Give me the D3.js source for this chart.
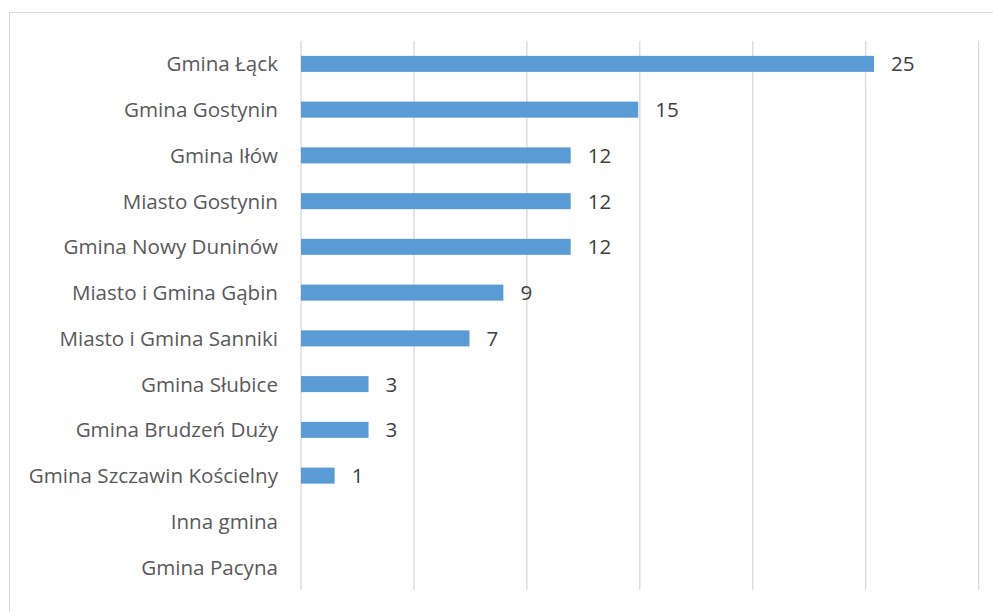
<!DOCTYPE html>
<html><head><meta charset="utf-8">
<script src="https://cdn.jsdelivr.net/npm/d3@7"></script>
<style>body{margin:0;background:#fff;} svg{display:block;}</style>
</head><body>
<svg id="chart" width="993" height="612"></svg>
<script>
const categories = ["Gmina Łąck","Gmina Gostynin","Gmina Iłów","Miasto Gostynin","Gmina Nowy Duninów","Miasto i Gmina Gąbin","Miasto i Gmina Sanniki","Gmina Słubice","Gmina Brudzeń Duży","Gmina Szczawin Kościelny","Inna gmina","Gmina Pacyna"];
const values = [25.37,14.93,11.94,11.94,11.94,8.96,7.46,2.99,2.99,1.49,0,0];
const xTicks = [0,5,10,15,20,25,30];

(function(){
const svg = d3.select("#chart");
const font = "'Open Sans', sans-serif";
svg.append("rect").attr("x",9.5).attr("y",12.5).attr("width",1000).attr("height",700)
  .attr("fill","#fff").attr("stroke","#d9d9d9").attr("stroke-width",1);

const pl=301, pr=978.6, pt=41, pb=590;
const x = d3.scaleLinear().domain([0,30]).range([pl,pr]);
const y = d3.scaleBand().domain(categories).range([pt,pb]).paddingInner(0.65).paddingOuter(0.325);

const g = svg.append("g");
g.selectAll("line.grid").data(xTicks).join("line").attr("class","grid")
  .attr("x1",d=>x(d)).attr("x2",d=>x(d)).attr("y1",pt).attr("y2",pb)
  .attr("stroke","#d9d9d9").attr("stroke-width",1.3);

g.selectAll("rect.bar").data(categories).join("rect").attr("class","bar")
  .attr("x",x(0)).attr("y",d=>y(d)).attr("height",y.bandwidth())
  .attr("width",(d,i)=>x(values[i])-x(0)).attr("fill","#5b9bd5")
  .style("display",(d,i)=>values[i]>0?null:"none");

g.selectAll("text.val").data(categories.filter((d,i)=>values[i]>0)).join("text").attr("class","val")
  .attr("x",d=>x(values[categories.indexOf(d)])+17).attr("y",d=>y(d)+y.bandwidth()/2)
  .attr("dy","0.36em").attr("fill","#404040").style("font-family",font).style("font-size","20.6px")
  .text(d=>d3.format(".0f")(values[categories.indexOf(d)]));

const yAxis = d3.axisLeft(y).tickSize(0).tickPadding(23);
const ya = svg.append("g").attr("transform",`translate(${pl},0)`).call(yAxis);
ya.select(".domain").remove();
ya.selectAll("text").attr("fill","#595959").style("font-family",font).style("font-size","20.6px").attr("dy","0.36em");
})();
</script>
</body></html>
